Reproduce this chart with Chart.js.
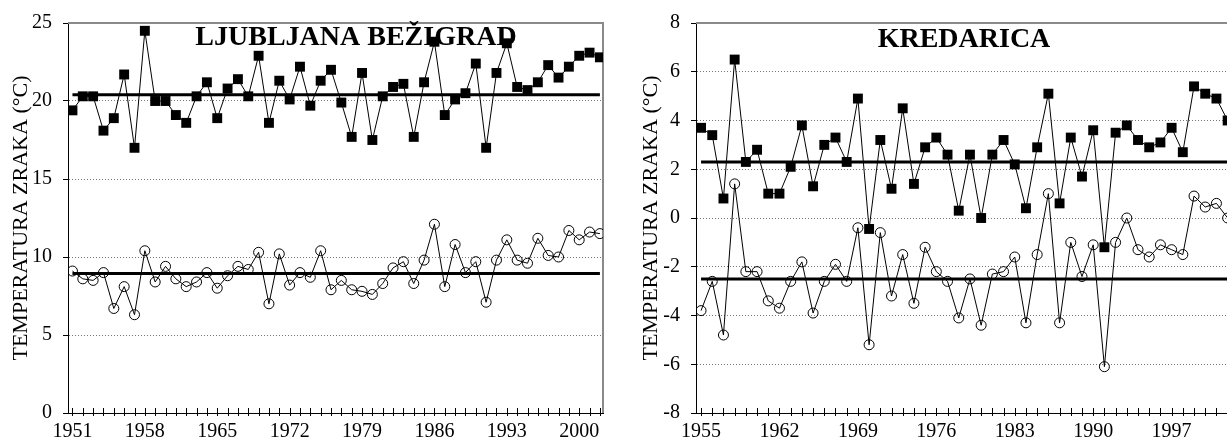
<!DOCTYPE html>
<html>
<head>
<meta charset="utf-8">
<script src="https://cdn.jsdelivr.net/npm/chart.js@4.4.0/dist/chart.umd.min.js"></script>
<style>
html, body { margin: 0; padding: 0; background: #fff; overflow: hidden; width: 1227px; height: 439px; }
.box { position: absolute; top: 0; height: 439px; }
#left { left: 0; width: 615px; }
#right { left: 615px; width: 630px; }
</style>
</head>
<body>
<div class="box" id="left"><canvas id="ljChart" width="615" height="439"></canvas></div>
<div class="box" id="right"><canvas id="krChart" width="630" height="439"></canvas></div>
<script>
// Ljubljana Bežigrad
const ljYears = [1951, 1952, 1953, 1954, 1955, 1956, 1957, 1958, 1959, 1960,
  1961, 1962, 1963, 1964, 1965, 1966, 1967, 1968, 1969, 1970,
  1971, 1972, 1973, 1974, 1975, 1976, 1977, 1978, 1979, 1980,
  1981, 1982, 1983, 1984, 1985, 1986, 1987, 1988, 1989, 1990,
  1991, 1992, 1993, 1994, 1995, 1996, 1997, 1998, 1999, 2000,
  2001, 2002];
const ljSquares = [19.4, 20.3, 20.3, 18.1, 18.9, 21.7, 17.0, 24.5, 20.0, 20.0,
  19.1, 18.6, 20.3, 21.2, 18.9, 20.8, 21.4, 20.3, 22.9, 18.6,
  21.3, 20.1, 22.2, 19.7, 21.3, 22.0, 19.9, 17.7, 21.8, 17.5,
  20.3, 20.9, 21.1, 17.7, 21.2, 23.8, 19.1, 20.1, 20.5, 22.4,
  17.0, 21.8, 23.7, 20.9, 20.7, 21.2, 22.3, 21.5, 22.2, 22.9,
  23.1, 22.8];
const ljCircles = [9.1, 8.6, 8.5, 9.0, 6.7, 8.1, 6.3, 10.4, 8.4, 9.4,
  8.6, 8.1, 8.4, 9.0, 8.0, 8.8, 9.4, 9.2, 10.3, 7.0,
  10.2, 8.2, 9.0, 8.7, 10.4, 7.9, 8.5, 7.9, 7.8, 7.6,
  8.3, 9.3, 9.7, 8.3, 9.8, 12.1, 8.1, 10.8, 9.0, 9.7,
  7.1, 9.8, 11.1, 9.8, 9.6, 11.2, 10.1, 10.0, 11.7, 11.1,
  11.6, 11.5];
const ljSquareMean = 20.4;
const ljCircleMean = 8.95;

// Kredarica
const krYears = [1955, 1956, 1957, 1958, 1959, 1960, 1961, 1962, 1963, 1964,
  1965, 1966, 1967, 1968, 1969, 1970, 1971, 1972, 1973, 1974,
  1975, 1976, 1977, 1978, 1979, 1980, 1981, 1982, 1983, 1984,
  1985, 1986, 1987, 1988, 1989, 1990, 1991, 1992, 1993, 1994,
  1995, 1996, 1997, 1998, 1999, 2000, 2001, 2002];
const krSquares = [3.7, 3.4, 0.8, 6.5, 2.3, 2.8, 1.0, 1.0, 2.1, 3.8,
  1.3, 3.0, 3.3, 2.3, 4.9, -0.45, 3.2, 1.2, 4.5, 1.4,
  2.9, 3.3, 2.6, 0.3, 2.6, 0.0, 2.6, 3.2, 2.2, 0.4,
  2.9, 5.1, 0.6, 3.3, 1.7, 3.6, -1.2, 3.5, 3.8, 3.2,
  2.9, 3.1, 3.7, 2.7, 5.4, 5.1, 4.9, 4.0];
const krCircles = [-3.8, -2.6, -4.8, 1.4, -2.2, -2.2, -3.4, -3.7, -2.6, -1.8,
  -3.9, -2.6, -1.9, -2.6, -0.4, -5.2, -0.6, -3.2, -1.5, -3.5,
  -1.2, -2.2, -2.6, -4.1, -2.5, -4.4, -2.3, -2.2, -1.6, -4.3,
  -1.5, 1.0, -4.3, -1.0, -2.4, -1.1, -6.1, -1.0, 0.0, -1.3,
  -1.6, -1.1, -1.3, -1.5, 0.9, 0.45, 0.6, 0.0];
const krSquareMean = 2.3;
const krCircleMean = -2.5;

const yTitle = 'TEMPERATURA ZRAKA (°C)';
const serif = '"Liberation Serif", "Times New Roman", serif';

// gray top/right frame, crossing x ticks and the station name inside the plot
const framePlugin = {
  id: 'frame',
  beforeDatasetsDraw(chart, args, opts) {
    const { ctx, chartArea: a, scales: { x } } = chart;
    ctx.save();
    ctx.strokeStyle = '#8a8a8a';
    ctx.lineWidth = 2;
    ctx.beginPath();
    ctx.moveTo(a.left, a.top);
    ctx.lineTo(a.right, a.top);
    ctx.lineTo(a.right, a.bottom);
    ctx.stroke();

    ctx.strokeStyle = '#000';
    ctx.lineWidth = 1;
    ctx.beginPath();
    x.ticks.forEach(t => {
      const px = Math.round(x.getPixelForValue(t.value)) + 0.5;
      ctx.moveTo(px, a.bottom - 5);
      ctx.lineTo(px, a.bottom + 3);
    });
    ctx.stroke();

    ctx.font = 'bold 28px ' + serif;
    ctx.fillStyle = '#000';
    ctx.textAlign = 'center';
    ctx.textBaseline = 'alphabetic';
    ctx.fillText(opts.text, opts.x, opts.y);
    ctx.restore();
  }
};

function makeChart(id, c) {
  const pts = vals => c.years.map((yr, i) => ({ x: yr, y: vals[i] }));
  const first = c.years[0], last = c.years[c.years.length - 1];
  const meanLine = v => [{ x: first, y: v }, { x: last, y: v }];

  return new Chart(document.getElementById(id), {
    type: 'line',
    data: {
      datasets: [
        { data: meanLine(c.squareMean), borderColor: '#000', borderWidth: 3, pointRadius: 0 },
        { data: meanLine(c.circleMean), borderColor: '#000', borderWidth: 3, pointRadius: 0 },
        { data: pts(c.circles), borderColor: '#000', borderWidth: 1, pointStyle: 'circle', pointRadius: 5,
          pointBackgroundColor: 'rgba(0,0,0,0)', pointBorderColor: '#000', pointBorderWidth: 1 },
        { data: pts(c.squares), borderColor: '#000', borderWidth: 1, pointStyle: 'rect', pointRadius: 7,
          pointBackgroundColor: '#000', pointBorderColor: '#000', pointBorderWidth: 0 }
      ]
    },
    options: {
      responsive: false,
      animation: false,
      devicePixelRatio: 1,
      layout: { padding: { top: 20, right: c.padRight, left: 0, bottom: 0 } },
      plugins: {
        legend: { display: false },
        tooltip: { enabled: false },
        frame: { text: c.title, x: c.titleX, y: c.titleY }
      },
      scales: {
        x: {
          type: 'linear',
          min: c.xMin,
          max: c.xMax,
          afterBuildTicks: s => { s.ticks = c.years.map(v => ({ value: v })); },
          afterFit: s => { s.height = 26; },
          grid: { display: false, drawTicks: false },
          border: { display: true, color: '#000', width: 1 },
          ticks: {
            autoSkip: false,
            maxRotation: 0,
            padding: 7,
            color: '#000',
            font: { family: serif, size: 20 },
            callback: v => ((v - first) % 7 === 0 ? String(v) : '')
          }
        },
        y: {
          min: c.yMin,
          max: c.yMax,
          afterFit: s => { s.width = c.yWidth; },
          grid: {
            color: ctx => (ctx.tick && (ctx.tick.value === c.yMin || ctx.tick.value === c.yMax)) ? 'rgba(0,0,0,0)' : '#777',
            lineWidth: 1,
            drawTicks: true,
            tickLength: 5,
            tickColor: '#000',
            tickBorderDash: []
          },
          border: { display: true, color: '#000', width: 1, dash: [1, 2] },
          ticks: {
            stepSize: c.yStep,
            padding: 11,
            color: '#000',
            font: { family: serif, size: 20 }
          },
          title: {
            display: true,
            text: yTitle,
            color: '#000',
            font: { family: serif, size: 22 },
            padding: { top: c.yTitlePad, bottom: 0 }
          }
        }
      }
    },
    plugins: [framePlugin]
  });
}

makeChart('ljChart', {
  years: ljYears, squares: ljSquares, circles: ljCircles,
  squareMean: ljSquareMean, circleMean: ljCircleMean,
  xMin: 1950.57, xMax: 2002.3, yMin: 0, yMax: 25, yStep: 5,
  yWidth: 68, padRight: 12, yTitlePad: 8,
  title: 'LJUBLJANA BEŽIGRAD', titleX: 356, titleY: 45
});

makeChart('krChart', {
  years: krYears, squares: krSquares, circles: krCircles,
  squareMean: krSquareMean, circleMean: krCircleMean,
  xMin: 1954.55, xMax: 2002.3, yMin: -8, yMax: 8, yStep: 2,
  yWidth: 81, padRight: 14, yTitlePad: 23,
  title: 'KREDARICA', titleX: 349, titleY: 47
});
</script>
</body>
</html>
